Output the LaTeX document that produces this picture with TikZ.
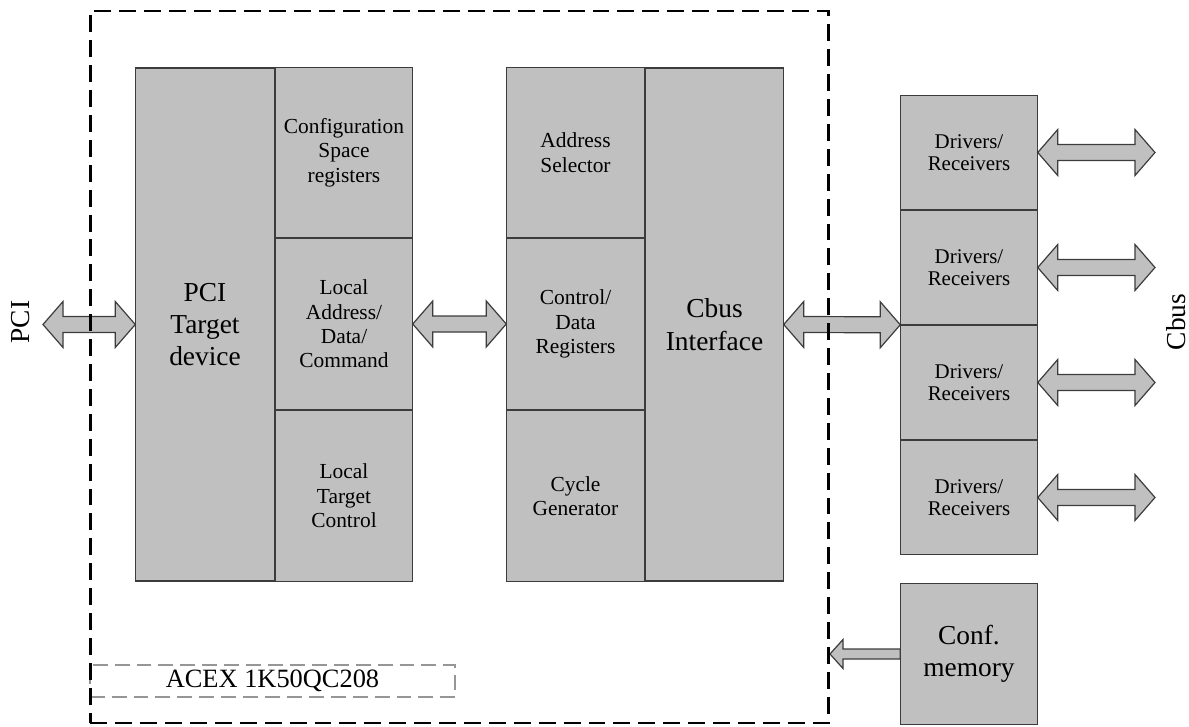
\documentclass[tikz,border=0pt]{standalone}
\usepackage{fontspec}
\setmainfont{Liberation Serif}
\usetikzlibrary{calc}
\definecolor{blockgray}{RGB}{192,192,192}
\definecolor{edgegray}{RGB}{60,60,60}
\definecolor{chipgray}{RGB}{150,150,150}
\tikzset{
  blk/.style={draw=edgegray, line width=1.4pt, fill=blockgray, inner sep=0pt, outer sep=0pt, align=center, font=\fontsize{21.5}{24.5}\selectfont},
  drvtxt/.style={font=\fontsize{21}{22.5}\selectfont},
  bigtxt/.style={font=\fontsize{27.5}{32.5}\selectfont},
  arr/.style={draw=edgegray, line width=1.2pt, fill=blockgray, line join=miter},
  dbl/.style={arr, to path={-- ($(\tikztostart)+(20,23)$) -- ($(\tikztostart)+(20,8)$) -- ($(\tikztotarget)+(-20,8)$) -- ($(\tikztotarget)+(-20,23)$) -- (\tikztotarget) -- ($(\tikztotarget)+(-20,-23)$) -- ($(\tikztotarget)+(-20,-8)$) -- ($(\tikztostart)+(20,-8)$) -- ($(\tikztostart)+(20,-23)$) -- cycle}},
  sgl/.style={arr, to path={-- ($(\tikztostart)+(0,5)$) -- ($(\tikztotarget)+(13,5)$) -- ($(\tikztotarget)+(13,14.5)$) -- (\tikztotarget) -- ($(\tikztotarget)+(13,-14.5)$) -- ($(\tikztotarget)+(13,-5)$) -- ($(\tikztostart)+(0,-5)$) -- cycle}},
  chipbox/.style={draw=black, line width=2.3pt, dash pattern=on 17pt off 8pt, inner sep=0pt, outer sep=0pt},
  acexbox/.style={draw=chipgray, line width=2pt, dash pattern=on 15pt off 7pt, inner sep=0pt, outer sep=0pt, font=\fontsize{26.5}{30}\selectfont},
  sidelbl/.style={rotate=90, inner sep=0pt, font=\fontsize{27.5}{31}\selectfont},
}
\begin{document}
\begin{tikzpicture}[x=1bp, y=-1bp]
\useasboundingbox (0,0) rectangle (1189,727);
% PCI target block
\node[blk, bigtxt, minimum width=140, minimum height=515] (pci) at (205,324.5) {PCI\\Target\\device};
\node[blk, minimum width=138, minimum height=171] (cfg) at (344,152.5) {Configuration\\Space\\registers};
\node[blk, minimum width=138, minimum height=172] (lad) at (344,324) {Local\\Address/\\Data/\\Command};
\node[blk, minimum width=138, minimum height=172] (ltc) at (344,496) {Local\\Target\\Control};
% middle block
\node[blk, minimum width=139, minimum height=171] (addr) at (575.5,152.5) {Address\\Selector};
\node[blk, minimum width=139, minimum height=172] (ctrl) at (575.5,324) {Control/\\Data\\Registers};
\node[blk, minimum width=139, minimum height=172] (cyc) at (575.5,496) {Cycle\\Generator};
\node[blk, bigtxt, minimum width=139, minimum height=515] (cbus) at (714.5,324.5) {Cbus\\Interface};
% drivers
\node[blk, drvtxt, minimum width=138, minimum height=115] (drv1) at (969,152.5) {Drivers/\\Receivers};
\node[blk, drvtxt, minimum width=138, minimum height=115] (drv2) at (969,267.5) {Drivers/\\Receivers};
\node[blk, drvtxt, minimum width=138, minimum height=115] (drv3) at (969,382.5) {Drivers/\\Receivers};
\node[blk, drvtxt, minimum width=138, minimum height=115] (drv4) at (969,497.5) {Drivers/\\Receivers};
\node[blk, bigtxt, minimum width=138, minimum height=142] (conf) at (969,654) {Conf.\\memory};
% free ends
\coordinate (pciL) at (43,324.5);
\coordinate (d1) at (1155,152.5);
\coordinate (d2) at (1155,267.5);
\coordinate (d3) at (1155,382.5);
\coordinate (d4) at (1155,497.5);
\coordinate (chipE) at (830,654);
% arrows
\draw[dbl] (pciL) to (pci.west);
\draw[dbl] (lad.east) to (ctrl.west);
\draw[dbl] (cbus.east) to (drv2.south west);
\draw[dbl] (drv1.east) to (d1);
\draw[dbl] (drv2.east) to (d2);
\draw[dbl] (drv3.east) to (d3);
\draw[dbl] (drv4.east) to (d4);
\draw[sgl] (conf.west) to (chipE);
% chip outline and label
\node[acexbox, minimum width=367, minimum height=32] (acex) at (272.5,681) {ACEX 1K50QC208};
\node[chipbox, minimum width=741, minimum height=714] (chip) at (459.5,367) {};
% side labels
\node[sidelbl] (pcilbl) at (21,322) {PCI};
\node[sidelbl] (cbuslbl) at (1176,322) {Cbus};
\end{tikzpicture}
\end{document}
